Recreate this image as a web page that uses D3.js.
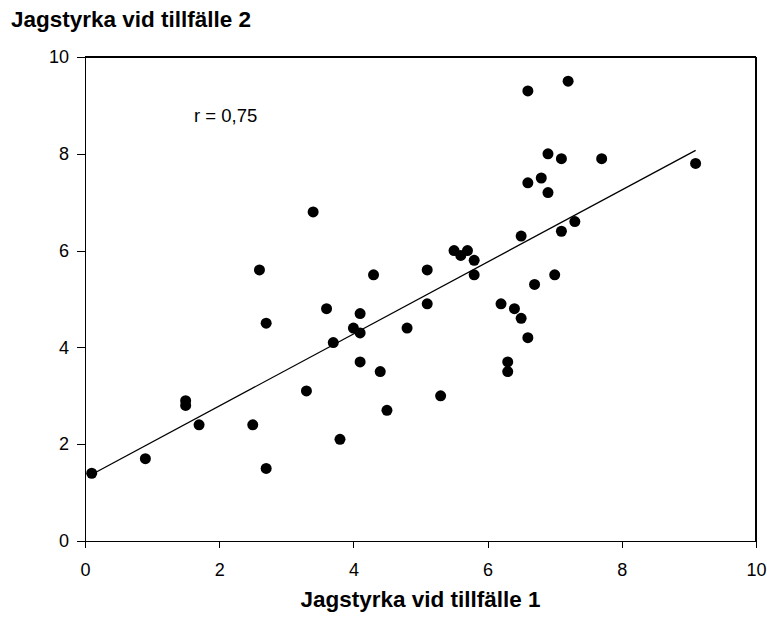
<!DOCTYPE html>
<html>
<head>
<meta charset="utf-8">
<script src="https://cdn.jsdelivr.net/npm/d3@7"></script>
<style>
  body { margin: 0; background: #fff; }
  svg { display: block; font-family: Arial, "Liberation Sans", sans-serif; }
  .axis path, .axis line { stroke: #000; stroke-width: 1.2px; shape-rendering: crispEdges; }
  .axis text { font-size: 18px; fill: #000; }
</style>
</head>
<body>
<div id="chart"></div>
<script>
// Jagstyrka vid tillfälle 1 (x) och 2 (y)
const xValues = [0.1, 0.9, 1.5, 1.5, 1.7, 2.5, 2.6, 2.7, 2.7, 3.3,
                 3.4, 3.6, 3.7, 3.8, 4.0, 4.1, 4.1, 4.1, 4.3, 4.4,
                 4.5, 4.8, 5.1, 5.1, 5.3, 5.5, 5.6, 5.7, 5.8, 5.8,
                 6.2, 6.3, 6.3, 6.4, 6.5, 6.5, 6.6, 6.6, 6.6, 6.7,
                 6.8, 6.9, 6.9, 7.0, 7.1, 7.1, 7.2, 7.3, 7.7, 9.1];
const yValues = [1.4, 1.7, 2.9, 2.8, 2.4, 2.4, 5.6, 4.5, 1.5, 3.1,
                 6.8, 4.8, 4.1, 2.1, 4.4, 4.7, 4.3, 3.7, 5.5, 3.5,
                 2.7, 4.4, 5.6, 4.9, 3.0, 6.0, 5.9, 6.0, 5.8, 5.5,
                 4.9, 3.7, 3.5, 4.8, 6.3, 4.6, 9.3, 7.4, 4.2, 5.3,
                 7.5, 8.0, 7.2, 5.5, 7.9, 6.4, 9.5, 6.6, 7.9, 7.8];
const xTicks = [0, 2, 4, 6, 8, 10];
const yTicks = [0, 2, 4, 6, 8, 10];
// regression line as drawn in the original
const fitIntercept = 1.30;
const fitSlope = 0.744;
const fitRange = [0.1, 9.1];
const rLabel = 'r = 0,75';

const width = 767;
const height = 621;
const margin = {top: 57, right: 11, bottom: 80, left: 85};
const innerW = width - margin.left - margin.right;
const innerH = height - margin.top - margin.bottom;

const points = xValues.map((x, i) => ({x: x, y: yValues[i]}));

const svg = d3.select('#chart').append('svg')
  .attr('width', width)
  .attr('height', height);

const g = svg.append('g')
  .attr('transform', `translate(${margin.left}, ${margin.top})`);

const xScale = d3.scaleLinear().domain([0, 10]).range([0, innerW]);
const yScale = d3.scaleLinear().domain([0, 10]).range([innerH, 0]);

/* Frame: top and right */
g.append('line')
  .attr('x1', 0).attr('x2', innerW).attr('y1', 0).attr('y2', 0)
  .attr('stroke', '#000').attr('stroke-width', 1.2).attr('shape-rendering', 'crispEdges');
g.append('line')
  .attr('x1', innerW).attr('x2', innerW).attr('y1', 0).attr('y2', innerH)
  .attr('stroke', '#000').attr('stroke-width', 1.2).attr('shape-rendering', 'crispEdges');

/* Axes */
const xAxis = d3.axisBottom(xScale).tickValues(xTicks).tickSize(7).tickSizeOuter(7).tickPadding(15);
const yAxis = d3.axisLeft(yScale).tickValues(yTicks).tickSize(8).tickSizeOuter(0).tickPadding(8);

g.append('g')
  .attr('class', 'x axis')
  .attr('transform', `translate(0, ${innerH})`)
  .call(xAxis);

g.append('g')
  .attr('class', 'y axis')
  .call(yAxis);

/* Regression line */
const line = d3.line()
  .x(d => xScale(d))
  .y(d => yScale(fitIntercept + fitSlope * d));

g.append('path')
  .attr('d', line(fitRange))
  .attr('fill', 'none')
  .attr('stroke', '#000')
  .attr('stroke-width', 1.3);

/* Points */
g.append('g')
  .selectAll('circle')
  .data(points).enter()
  .append('circle')
  .attr('cx', d => xScale(d.x))
  .attr('cy', d => yScale(d.y))
  .attr('r', 5.5)
  .attr('fill', '#000');

/* Correlation label */
g.append('text')
  .attr('x', 109)
  .attr('y', 65)
  .attr('font-size', 18.5)
  .text(rLabel);

/* Titles */
svg.append('text')
  .attr('x', 11)
  .attr('y', 27)
  .attr('font-size', 22.5)
  .attr('font-weight', 'bold')
  .text('Jagstyrka vid tillfälle 2');

svg.append('text')
  .attr('x', margin.left + innerW / 2)
  .attr('y', 607)
  .attr('text-anchor', 'middle')
  .attr('font-size', 22.5)
  .attr('font-weight', 'bold')
  .text('Jagstyrka vid tillfälle 1');
</script>
</body>
</html>
